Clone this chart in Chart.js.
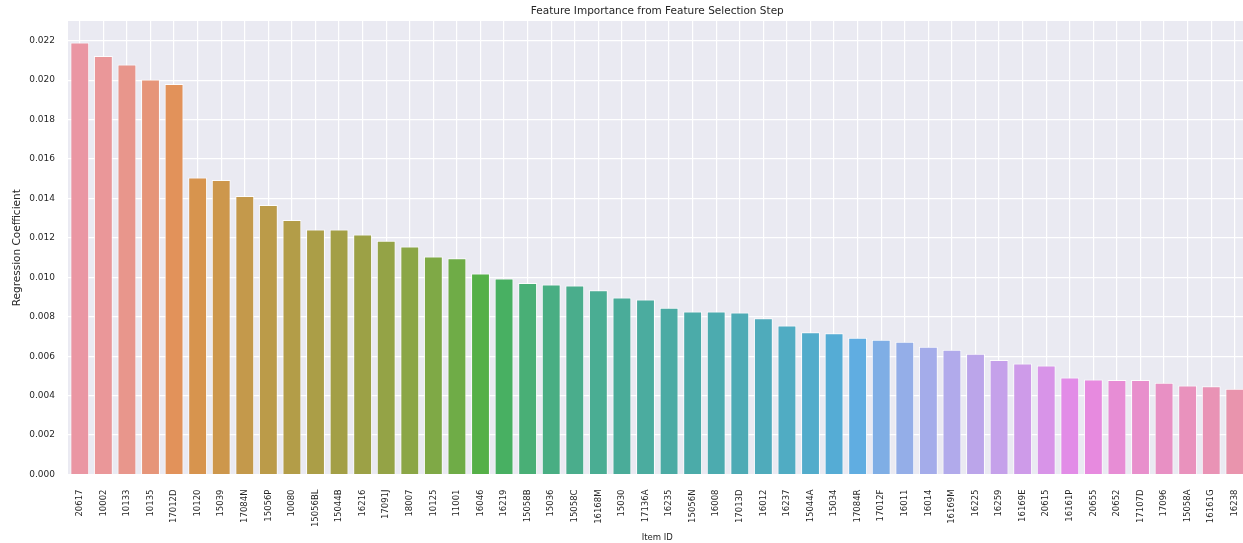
<!DOCTYPE html>
<html>
<head>
<meta charset="utf-8">
<script src="https://cdn.jsdelivr.net/npm/chart.js@4"></script>
<style>
  html, body { margin: 0; padding: 0; background: #fff; overflow: hidden; }
  #wrap { width: 1260px; height: 543px; }
</style>
</head>
<body>
<div id="wrap"><canvas id="featChart" width="1260" height="543"></canvas></div>
<script>
// Item IDs, in the order plotted
const itemIds = ['20617', '10002', '10133', '10135', '17012D', '10120', '15039', '17084N', '15056P', '10080',
  '15056BL', '15044B', '16216', '17091J', '18007', '10125', '11001', '16046', '16219', '15058B',
  '15036', '15058C', '16168M', '15030', '17136A', '16235', '15056N', '16008', '17013D', '16012',
  '16237', '15044A', '15034', '17084R', '17012F', '16011', '16014', '16169M', '16225', '16259',
  '16169E', '20615', '16161P', '20655', '20652', '17107D', '17096', '15058A', '16161G', '16238'];

// Regression coefficients
const coefficients = [0.02191, 0.02123, 0.02079, 0.02003, 0.01981, 0.01506, 0.01493, 0.01413, 0.01367, 0.01291,
  0.01242, 0.01242, 0.01217, 0.01186, 0.01156, 0.01105, 0.01097, 0.01020, 0.00994, 0.00971,
  0.00963, 0.00959, 0.00935, 0.00898, 0.00887, 0.00846, 0.00827, 0.00827, 0.00822, 0.00792,
  0.00756, 0.00721, 0.00716, 0.00694, 0.00684, 0.00673, 0.00648, 0.00633, 0.00613, 0.00581,
  0.00563, 0.00553, 0.00492, 0.00482, 0.00479, 0.00479, 0.00465, 0.00452, 0.00447, 0.00435];

// y axis
const yMax = 0.023;
const yStep = 0.002;

// seaborn husl palette (l=.7), then desaturated to 0.75 like barplot does
const M = [[3.2406, -1.5372, -0.4986], [-0.9689, 1.8758, 0.0415], [0.0557, -0.2040, 1.0570]];

function maxChroma(L, H) {
  const hrad = H * Math.PI / 180, sinH = Math.sin(hrad), cosH = Math.cos(hrad);
  const sub1 = Math.pow(L + 16, 3) / 1560896;
  const sub2 = sub1 > 0.008856 ? sub1 : L / 903.3;
  let result = Infinity;
  M.forEach(([m1, m2, m3]) => {
    const top = (0.99915 * m1 + 1.05122 * m2 + 1.14460 * m3) * sub2;
    const rbottom = 0.86330 * m3 - 0.17266 * m2;
    const lbottom = 0.12949 * m3 - 0.38848 * m1;
    const bottom = (rbottom * sinH + lbottom * cosH) * sub2;
    [0, 1].forEach(t => {
      const C = L * (top - 1.05122 * t) / (bottom + 0.17266 * sinH * t);
      if (C > 0 && C < result) result = C;
    });
  });
  return result;
}

function huslToRgb(H, S, L) {
  const C = maxChroma(L, H) / 100 * S;
  const hrad = H * Math.PI / 180;
  const U = Math.cos(hrad) * C, V = Math.sin(hrad) * C;
  const fInv = t => Math.pow(t, 3) > 216 / 24389 ? Math.pow(t, 3) : (116 * t - 16) / (24389 / 27);
  const Y = fInv((L + 16) / 116);
  const varU = U / (13 * L) + 0.19784, varV = V / (13 * L) + 0.46834;
  const X = 0 - (9 * Y * varU) / ((varU - 4) * varV - varU * varV);
  const Z = (9 * Y - 15 * varV * Y - varV * X) / (3 * varV);
  return M.map(r => {
    let c = r[0] * X + r[1] * Y + r[2] * Z;
    c = c <= 0.0031308 ? 12.92 * c : 1.055 * Math.pow(c, 1 / 2.4) - 0.055;
    return Math.min(1, Math.max(0, c));
  });
}

function barColors(n) {
  const out = [];
  for (let i = 0; i < n; i++) {
    const h = ((i / n + 0.01) % 1) * 359;
    const rgb = huslToRgb(h, 0.9 * 99, 0.7 * 99);
    const l = (Math.max(...rgb) + Math.min(...rgb)) / 2;
    const d = rgb.map(c => Math.round((l + (c - l) * 0.75) * 255));
    out.push('rgb(' + d.join(',') + ')');
  }
  return out;
}

const textColor = '#262626';
const font = 'DejaVu Sans';

// axes background + title centred over the axes
const axesBg = {
  id: 'axesBg',
  beforeDraw(chart) {
    const {ctx, chartArea: a} = chart;
    ctx.save();
    ctx.fillStyle = '#EAEAF2';
    ctx.fillRect(a.left, a.top, a.right - a.left, a.bottom - a.top);
    ctx.restore();
  },
  afterDraw(chart) {
    const {ctx, chartArea: a} = chart;
    ctx.save();
    ctx.fillStyle = textColor;
    ctx.font = '10.5px "' + font + '"';
    ctx.textAlign = 'center';
    ctx.textBaseline = 'middle';
    ctx.fillText('Feature Importance from Feature Selection Step', (a.left + a.right) / 2, 11);
    ctx.restore();
  }
};

const ctx = document.getElementById('featChart').getContext('2d');
new Chart(ctx, {
  type: 'bar',
  data: {
    labels: itemIds,
    datasets: [{
      label: 'Regression Coefficient',
      data: coefficients,
      backgroundColor: barColors(itemIds.length),
      borderColor: 'rgba(255,255,255,0.85)',
      borderWidth: 1,
      barPercentage: 0.8,
      categoryPercentage: 1.0
    }]
  },
  options: {
    responsive: false,
    animation: false,
    layout: { padding: { top: 21, left: 0, right: 0, bottom: 0 } },
    plugins: {
      legend: { display: false },
      tooltip: { enabled: false }
    },
    scales: {
      x: {
        grid: { color: '#ffffff', lineWidth: 1.2, offset: false, drawTicks: false },
        border: { display: false },
        ticks: {
          color: textColor, font: { family: font, size: 8.5 },
          minRotation: 90, maxRotation: 90, autoSkip: false, padding: 15
        },
        title: {
          display: true, text: 'Item ID', color: textColor,
          font: { family: font, size: 8.5 }, padding: { top: 0, bottom: 0 }
        },
        afterFit(scale) { scale.height = 68.5; }
      },
      y: {
        min: 0,
        max: yMax,
        grid: { color: '#ffffff', lineWidth: 1.2, drawTicks: false },
        border: { display: false },
        ticks: {
          stepSize: yStep, includeBounds: false, padding: 13,
          color: textColor, font: { family: font, size: 9 },
          callback: v => v.toFixed(3)
        },
        title: {
          display: true, text: 'Regression Coefficient', color: textColor,
          font: { family: font, size: 10.5 }, padding: { top: 11, bottom: 0 }
        },
        afterFit(scale) { scale.width = 68; }
      }
    }
  },
  plugins: [axesBg]
});
</script>
</body>
</html>
